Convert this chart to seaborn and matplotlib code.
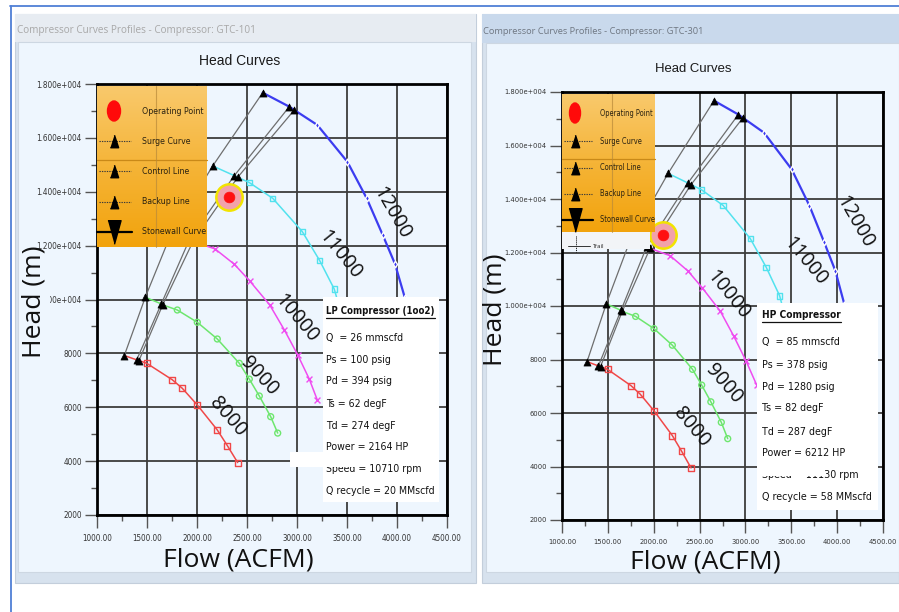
import matplotlib
matplotlib.use("Agg")
import numpy as np
import matplotlib.pyplot as plt
from matplotlib import font_manager as fm
from matplotlib.patches import Rectangle, Ellipse
from matplotlib.colors import LinearSegmentedColormap
import seaborn as sns

# ---------------- compressor map data ----------------
speeds = [8000, 9000, 10000, 11000, 12000]

# surge, control and backup points (one per speed line)
surge_flow = [1273, 1483, 1741, 2157, 2657]
surge_head = [7919, 10083, 12439, 14958, 17677]
control_flow = [1397, 1643, 1923, 2373, 2923]
control_head = [7760, 9838, 12214, 14598, 17158]
backup_flow = [1420, 1657, 1960, 2407, 2973]
backup_head = [7735, 9800, 12155, 14537, 17035]

# speed-line points to the right of the backup line
flow_8000 = [1497, 1753, 1853, 2003, 2203, 2303, 2407]
head_8000 = [7632, 7020, 6703, 6084, 5156, 4578, 3946]
flow_9000 = [1803, 2003, 2203, 2423, 2523, 2623, 2737, 2807]
head_9000 = [9610, 9154, 8534, 7632, 7044, 6418, 5650, 5041]
flow_10000 = [2180, 2373, 2527, 2727, 2873, 3007, 3123, 3203]
head_10000 = [11878, 11310, 10690, 9800, 8873, 7945, 7044, 6270]
flow_11000 = [2523, 2757, 3053, 3227, 3373, 3440]
head_11000 = [14341, 13757, 12520, 11444, 10383, 9500]
flow_12000 = [3203, 3503, 3697, 3857, 3980, 4080, 4140]
head_12000 = [16479, 15117, 13757, 12398, 11320, 10048, 9000]

# operating points
op_lp_flow, op_lp_head = 2320, 13794
op_hp_flow, op_hp_head = 2105, 12652

x_ticks = [1000, 1500, 2000, 2500, 3000, 3500, 4000, 4500]
y_ticks = [2000, 4000, 6000, 8000, 10000, 12000, 14000, 16000, 18000]

legend_labels = ["Operating Point", "Surge Curve", "Control Line", "Backup Line", "Stonewall Curve"]

lp_title = "LP Compressor (1oo2)"
lp_lines = ["Q  = 26 mmscfd", "Ps = 100 psig", "Pd = 394 psig", "Ts = 62 degF",
            "Td = 274 degF", "Power = 2164 HP", "Speed = 10710 rpm", "Q recycle = 20 MMscfd"]
hp_title = "HP Compressor"
hp_lines = ["Q  = 85 mmscfd", "Ps = 378 psig", "Pd = 1280 psig", "Ts = 82 degF",
            "Td = 287 degF", "Power = 6212 HP", "Speed = 11130 rpm", "Q recycle = 58 MMscfd"]

window_titles = ["Compressor Curves Profiles - Compressor: GTC-101",
                 "Compressor Curves Profiles - Compressor: GTC-301"]

# ---------------- styling ----------------
sns.set_style("ticks")
plt.rcParams["font.family"] = ["DejaVu Sans"]

_fonts = fm.fontManager.ttflist
if any(f.name == "Liberation Sans Narrow" for f in _fonts):
    NARROW = dict(family="Liberation Sans Narrow", fontstretch="normal")
elif any(f.name == "DejaVu Sans" and f.stretch == "condensed" for f in _fonts):
    NARROW = dict(family="DejaVu Sans", fontstretch="condensed")
else:
    NARROW = dict(family="Liberation Sans", fontstretch="normal")

W, H = 899, 612
BODY = "#eef6fe"
GRAY = "#6e6e6e"

curve_flow = {8000: flow_8000, 9000: flow_9000, 10000: flow_10000, 11000: flow_11000, 12000: flow_12000}
curve_head = {8000: head_8000, 9000: head_9000, 10000: head_10000, 11000: head_11000, 12000: head_12000}
curve_style = {
    8000: dict(color="#f04848", marker="s", open=True, s=18, lw=1.1),
    9000: dict(color="#6ee66e", marker="o", open=True, s=18, lw=1.1),
    10000: dict(color="#f04cf0", marker="x", open=False, s=18, lw=1.1),
    11000: dict(color="#52e2ee", marker="s", open=True, s=16, lw=1.1),
    12000: dict(color="#3c3cf0", marker="d", open=False, s=12, lw=1.6),
}

fig = plt.figure(figsize=(W / 100, H / 100), dpi=100)
fig.patch.set_facecolor("white")
R = fig.canvas.get_renderer()


def fit(text, width_px, **props):
    """Font size (pt) at which `text` spans `width_px` pixels."""
    t = fig.text(0, 0, text, fontsize=10, **props)
    w = t.get_window_extent(renderer=R).width
    t.remove()
    return 10.0 * width_px / w


def px_axes(x0, y0, x1, y1, **kw):
    return fig.add_axes([x0 / W, 1 - y1 / H, (x1 - x0) / W, (y1 - y0) / H], **kw)


def rect(ax, x0, y0, x1, y1, **kw):
    ax.add_patch(Rectangle((x0, y0), x1 - x0, y1 - y0, **kw))


# ---------------- window chrome (pixel coordinates) ----------------
bg = px_axes(0, 0, W, H, zorder=0)
bg.set_xlim(0, W)
bg.set_ylim(H, 0)
bg.axis("off")

bg.plot([10, W], [6, 6], color="#4f7fd6", lw=1.3)
bg.plot([11, 11], [6, H], color="#4f7fd6", lw=1.3)

rect(bg, 15, 14, 476, 583, fc="#d7e2ee", ec="#c3cedb", lw=0.8)
rect(bg, 15, 14, 476, 42, fc="#e7ecf2", ec="none")
rect(bg, 18, 42, 471, 572, fc=BODY, ec="#cdd7e2", lw=0.8)
rect(bg, 482, 14, W, 583, fc="#d7e2ee", ec="#c3cedb", lw=0.8)
rect(bg, 482, 14, W, 43, fc="#c9d9ec", ec="none")
rect(bg, 486, 43, W, 572, fc=BODY, ec="#cdd7e2", lw=0.8)

fs_head_l = fit(window_titles[0], 240, family="Open Sans")
fs_head_r = fit(window_titles[1], 220, family="Open Sans")
bg.text(17, 31, window_titles[0], fontsize=fs_head_l, family="Open Sans", color="#a8a8a8", va="center")
bg.text(483, 31, window_titles[1], fontsize=fs_head_r, family="Open Sans", color="#6f7782", va="center")


def ylab(v):
    return f"{v / 1e4:.3f}e+004" if v >= 10000 else f"{int(v)}"


def setup_axes(ax, fs_y, fs_x):
    ax.set_facecolor(BODY)
    ax.set_xlim(1000, 4500)
    ax.set_ylim(2000, 18000)
    ax.set_xticks(x_ticks, [f"{v:.2f}" for v in x_ticks], fontsize=fs_x, color="#333", **NARROW)
    ax.set_yticks(y_ticks, [ylab(v) for v in y_ticks], fontsize=fs_y, color="#333", **NARROW)
    ax.set_xticks(np.arange(1250, 4500, 500), minor=True)
    ax.set_yticks(np.arange(3000, 18000, 2000), minor=True)
    ax.tick_params(which="major", direction="out", length=9, width=1, color="#555")
    ax.tick_params(axis="x", which="major", pad=5)
    ax.tick_params(axis="y", which="major", pad=2)
    ax.tick_params(which="minor", direction="out", length=4, width=1, color="#555")
    ax.grid(which="major", color="#3c3c3c", lw=1.3)
    ax.set_axisbelow(True)
    for s in ax.spines.values():
        s.set_visible(True)
        s.set_linewidth(2)
        s.set_color("black")
    ax.set_xlabel("")
    ax.set_ylabel("")


fs_speed = fit("12000", 57, family="Open Sans")


def draw_map(ax, labels, op_flow, op_head):
    for fx, fy in [(surge_flow, surge_head), (control_flow, control_head), (backup_flow, backup_head)]:
        sns.lineplot(x=fx, y=fy, sort=False, estimator=None, color=GRAY, lw=0.9, ax=ax, zorder=2)
    for i, spd in enumerate(speeds):
        st = curve_style[spd]
        fx = [surge_flow[i], control_flow[i], backup_flow[i]] + curve_flow[spd]
        fy = [surge_head[i], control_head[i], backup_head[i]] + curve_head[spd]
        sns.lineplot(x=fx, y=fy, sort=False, estimator=None, color=st["color"], lw=st["lw"], ax=ax, zorder=3)
        if st["open"]:
            sns.scatterplot(x=curve_flow[spd], y=curve_head[spd], marker=st["marker"], s=st["s"],
                            color=st["color"], facecolor="none", edgecolor=st["color"], linewidth=1,
                            ax=ax, zorder=4)
        else:
            sns.scatterplot(x=curve_flow[spd], y=curve_head[spd], marker=st["marker"], s=st["s"],
                            color=st["color"], linewidth=1, ax=ax, zorder=4)
        lx, ly, rot = labels[spd]
        ax.text(lx, ly, str(spd), rotation=rot, rotation_mode="anchor", ha="center", va="center",
                fontsize=fs_speed, family="Open Sans", color="#111", zorder=5)
    sns.scatterplot(x=surge_flow + control_flow + backup_flow, y=surge_head + control_head + backup_head,
                    marker="^", s=26, color="black", edgecolor="black", linewidth=0.5, ax=ax, zorder=5)
    # operating point with its highlight ring
    sns.scatterplot(x=[op_flow], y=[op_head], s=360, color="#f2a2aa", edgecolor="#f2e400",
                    linewidth=1.8, ax=ax, zorder=6)
    sns.scatterplot(x=[op_flow], y=[op_head], s=60, color="#ff1010", edgecolor="#ff1010",
                    linewidth=0.5, ax=ax, zorder=7)


labels_lp = {12000: (3947, 13203, -60), 11000: (3430, 11656, -51), 10000: (2997, 9308, -50),
             9000: (2623, 7141, -47), 8000: (2307, 5634, -49)}
labels_hp = {12000: (4194, 13149, -60), 11000: (3649, 11653, -50), 10000: (2813, 10400, -51),
             9000: (2758, 7105, -49), 8000: (2413, 5483, -50)}

fs_ytick_l = fit("1.800e+004", 46, **NARROW)
fs_xtick_l = fit("1000.00", 30, **NARROW)
fs_ytick_r = fit("1.800e+004", 42, **NARROW)
fs_xtick_r = fit("1000.00", 28, **NARROW)

ax_l = px_axes(97, 84, 447, 515, zorder=2)
draw_map(ax_l, labels_lp, op_lp_flow, op_lp_head)
setup_axes(ax_l, fs_ytick_l, fs_xtick_l)

ax_r = px_axes(562, 92, 883, 520, zorder=2)
draw_map(ax_r, labels_hp, op_hp_flow, op_hp_head)
setup_axes(ax_r, fs_ytick_r, fs_xtick_r)

# ---------------- overlays: titles, legends, info boxes ----------------
ov = px_axes(0, 0, W, H, zorder=5)
ov.set_xlim(0, W)
ov.set_ylim(H, 0)
ov.axis("off")

ov.text(240, 61, "Head Curves", fontsize=fit("Head Curves", 81, family="Liberation Sans"),
        family="Liberation Sans", ha="center", va="center", color="#1a1a1a")
ov.text(693, 69, "Head Curves", fontsize=fit("Head Curves", 77, family="Liberation Sans"),
        family="Liberation Sans", ha="center", va="center", color="#1a1a1a")

fs_axis = fit("Flow (ACFM)", 150, family="Open Sans")
ov.text(238, 560, "Flow (ACFM)", fontsize=fs_axis, family="Open Sans", ha="center", va="center", color="#111")
ov.text(705, 562, "Flow (ACFM)", fontsize=fs_axis, family="Open Sans", ha="center", va="center", color="#111")
# the left axis title sits over the start of the 1.000e+004 tick label
rect(ov, 36, 292, 50, 305, fc=BODY, ec="none", zorder=1)
ov.text(34, 302, "Head (m)", fontsize=fs_axis, family="Open Sans", rotation=90, ha="center", va="center",
        color="#111", zorder=2)
ov.text(495, 310, "Head (m)", fontsize=fs_axis, family="Open Sans", rotation=90, ha="center", va="center",
        color="#111", zorder=2)

orange = LinearSegmentedColormap.from_list("legend_bg", ["#f9c96c", "#f5b437", "#f2a30c"])
grad = np.linspace(0, 1, 128).reshape(-1, 1)

TRI_UP = [(-0.33, -0.5), (0.33, -0.5), (0.0, 0.5)]
TRI_DOWN = [(-0.5, 0.9), (0.5, 0.9), (0.0, -0.9)]


def draw_legend(x0, y0, x1, y1, mx, tx, rows, sep_y, vline_x, ell_w, text_w):
    fs = fit(legend_labels[0], text_w, **NARROW)
    ov.imshow(grad, cmap=orange, extent=(x0, x1, y1, y0), aspect="auto", zorder=1, interpolation="bilinear")
    ov.plot([x0, x1], [sep_y, sep_y], color="#c98918", lw=0.9, zorder=2)
    ov.plot([vline_x, vline_x], [y0, y1], color="#b98a3a", lw=0.8, alpha=0.7, zorder=2)
    ov.add_patch(Ellipse((mx, rows[0]), ell_w, 20, color="#ff0a0a", zorder=3))
    for y in rows[1:4]:
        ov.plot([x0 + 2, mx + 17], [y, y], color="#3a3a3a", lw=0.8, ls=(0, (1.2, 1)), zorder=3)
        ov.plot([mx], [y], marker=TRI_UP, ms=9, color="black", zorder=4)
    ov.plot([x0, mx + 18], [rows[4], rows[4]], color="black", lw=1.6, zorder=3)
    ov.plot([mx], [rows[4]], marker=TRI_DOWN, ms=17, color="black", zorder=4)
    for y, s in zip(rows, legend_labels):
        ov.text(tx, y, s, fontsize=fs, va="center", ha="left", color="#2a2211", zorder=4, **NARROW)


draw_legend(97, 86, 207, 247, 114, 142, [111, 141, 171, 202, 232], 160, 156, 13, 62)
draw_legend(562, 94, 655, 232, 575, 600, [113, 141, 168, 194, 220], 159, 612, 11, 53)

# partially hidden extra legend entry below the HP legend
rect(ov, 562, 232, 650, 249, fc="#f2f4f7", ec="none", zorder=1)
ov.plot([576, 576], [236, 252], color="black", lw=0.7, ls=(0, (1, 1)), zorder=2)
ov.plot([568, 590], [246, 246], color="#333", lw=0.7, zorder=2)
ov.text(593, 246, "Trail", fontsize=4.5, va="center", ha="left", color="#333", zorder=2, **NARROW)


def info_box(x0, y0, x1, y1, title, lines, tx, ty_title, ty_lines, title_w, last_w):
    fs = fit(lines[-1], last_w, **NARROW)
    fs_t = fit(title, title_w, fontweight="bold", **NARROW)
    rect(ov, x0, y0, x1, y1, fc="white", ec="none", zorder=1)
    t = ov.text(tx, ty_title, title, fontsize=fs_t, fontweight="bold", va="center", ha="left",
                color="#111", zorder=3, **NARROW)
    for y, s in zip(ty_lines, lines):
        ov.text(tx, y, s, fontsize=fs, va="center", ha="left", color="#111", zorder=3, **NARROW)
    return t


t_lp = info_box(323, 297, 439, 502, lp_title, lp_lines, 326, 311,
                [338, 360, 381, 404, 426, 447, 469, 491], 108, 110)
t_hp = info_box(757, 303, 878, 510, hp_title, hp_lines, 762, 315,
                [342, 365, 387, 408, 432, 453, 475, 497], 78, 111)

# white strips overlapping the speed rows
rect(ov, 290, 452, 359, 467, fc="white", ec="none", zorder=4)
rect(ov, 757, 462, 824, 476, fc="white", ec="none", zorder=4)

# underline the box titles
fig.canvas.draw()
inv = ov.transData.inverted()
for t, yline in [(t_lp, 318), (t_hp, 322)]:
    bb = t.get_window_extent()
    (ax0, _), (ax1, _) = inv.transform([(bb.x0, bb.y0), (bb.x1, bb.y1)])
    ov.plot([ax0, ax1], [yline, yline], color="#111", lw=0.9, zorder=3)

fig.savefig("out.png", dpi=100, facecolor="white")
